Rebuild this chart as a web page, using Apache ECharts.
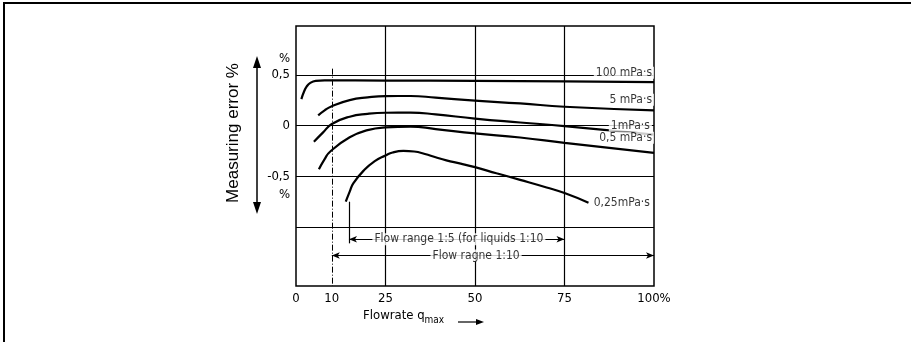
<!DOCTYPE html>
<html>
<head>
<meta charset="utf-8">
<script src="https://cdn.jsdelivr.net/npm/echarts@6/dist/echarts.min.js"></script>
<style>
  html, body { margin: 0; padding: 0; background: #fff; }
  #chart { width: 911px; height: 342px; }
</style>
</head>
<body>
<div id="chart"></div>
<script>
const NARROW = "'Liberation Sans Narrow', 'DejaVu Sans Condensed', sans-serif";

// flowrate in % of q_max, measuring error in %
const visc100 = [[1.5, 0.26], [2.2, 0.33], [3, 0.385], [4, 0.42], [5.5, 0.44], [8, 0.445], [25, 0.443], [50, 0.44], [75, 0.435], [100, 0.428]];
const visc5 = [[6.2, 0.1], [8, 0.15], [10, 0.19], [15, 0.25], [20, 0.277], [25, 0.29], [32, 0.291], [39, 0.275], [50, 0.245], [62.6, 0.218], [75, 0.185], [100, 0.15]];
const visc1 = [[5, -0.16], [7.5, -0.07], [10, 0.015], [15, 0.087], [20, 0.115], [25, 0.126], [32, 0.127], [39, 0.11], [50, 0.068], [62.6, 0.03], [75, -0.005], [100, -0.09]];
const visc05 = [[6.4, -0.43], [8, -0.33], [9.5, -0.258], [15, -0.115], [20, -0.045], [25, -0.018], [32, -0.01], [39, -0.035], [50, -0.077], [62.6, -0.118], [75, -0.17], [100, -0.27]];
const visc025 = [[13.9, -0.75], [15, -0.65], [16, -0.57], [19, -0.44], [22, -0.35], [25, -0.295], [27, -0.265], [30, -0.25], [33, -0.256], [36, -0.28], [39, -0.313], [42, -0.343], [46, -0.375], [50, -0.41], [56, -0.47], [62.6, -0.535], [70, -0.61], [75, -0.665], [81.7, -0.76]];

const xTickValues = [0, 10, 25, 50, 75, 100];
const xTickLabels = ["0", "10", "25", "50", "75", "100%"];
const yTickValues = [0.66, 0.5, 0, -0.5, -0.68];
const yTickLabels = ["%", "0,5", "0", "-0,5", "%"];

const hLines = [0.5, 0, -0.5, -1];
const vLines = [25, 50, 75];

const curves = [
  { data: visc100, label: "100 mPa·s", at: [100, 0.52], align: "right" },
  { data: visc5, label: "5 mPa·s", at: [100, 0.255], align: "right" },
  { data: visc1, label: "1mPa·s", at: [99.4, 0.0], align: "right" },
  { data: visc05, label: "0,5 mPa·s", at: [100, -0.12], align: "right" },
  { data: visc025, label: "0,25mPa·s", at: [82.6, -0.76], align: "left" }
];

// flow range arrows: [from, to, level]
const range5 = [14.8, 75, -1.12];
const range10 = [10, 100, -1.28];

const chart = echarts.init(document.getElementById("chart"), null, { renderer: "canvas" });

const black = "#000";

const gridSeries = {
  type: "line",
  data: [],
  silent: true,
  markLine: {
    silent: true,
    symbol: "none",
    label: { show: false },
    lineStyle: { color: black, width: 1.2, type: "solid" },
    data: [
      ...hLines.map((v) => ({ yAxis: v })),
      ...vLines.map((v) => ({ xAxis: v })),
      [
        { coord: [10, 0.56], lineStyle: { type: [6, 2, 1, 2], width: 1 } },
        { coord: [10, -1.58] }
      ],
      [{ coord: [range5[0], -0.75] }, { coord: [range5[0], -1.16] }]
    ]
  }
};

const arrowSeries = {
  type: "line",
  data: [],
  silent: true,
  markLine: {
    silent: true,
    symbol: ["arrow", "arrow"],
    symbolSize: [5, 8],
    label: { show: false },
    lineStyle: { color: black, width: 1, type: "solid" },
    data: [
      [{ coord: [range5[0], range5[2]] }, { coord: [range5[1], range5[2]] }],
      [{ coord: [range10[0], range10[2]] }, { coord: [range10[1], range10[2]] }]
    ]
  }
};

const curveSeries = curves.map((c) => ({
  type: "line",
  data: c.data,
  smooth: 0.5,
  showSymbol: false,
  silent: true,
  lineStyle: { color: black, width: 2.2 }
}));

const textSeries = {
  type: "scatter",
  symbolSize: 0,
  silent: true,
  z: 10,
  data: [
    ...curves.map((c) => ({ value: c.at, name: c.label, align: c.align })),
    { value: [45.5, range5[2]], name: "Flow range 1:5 (for liquids 1:10", align: "center" },
    { value: [50.3, range10[2]], name: "Flow ragne 1:10", align: "center" }
  ].map((d) => ({
    value: d.value,
    label: {
      show: true,
      position: "inside",
      formatter: d.name,
      align: d.align,
      verticalAlign: "middle",
      color: black,
      fontFamily: NARROW,
      fontSize: 12,
      backgroundColor: "#fff",
      padding: [0, 2]
    }
  }))
};

chart.setOption({
  animation: false,
  backgroundColor: "#fff",
  grid: {
    left: 296, right: 257, top: 26, bottom: 56,
    show: true, borderColor: black, borderWidth: 1.5, backgroundColor: "transparent"
  },
  xAxis: {
    type: "value", min: 0, max: 100,
    axisLine: { show: false },
    axisTick: { show: false },
    splitLine: { show: false },
    axisLabel: {
      customValues: xTickValues,
      formatter: (v) => xTickLabels[xTickValues.indexOf(v)],
      color: black, fontFamily: NARROW, fontSize: 13, margin: 6
    }
  },
  yAxis: {
    type: "value", min: -1.58, max: 0.98,
    axisLine: { show: false },
    axisTick: { show: false },
    splitLine: { show: false },
    axisLabel: {
      customValues: yTickValues,
      formatter: (v) => yTickLabels[yTickValues.indexOf(v)],
      color: black, fontFamily: NARROW, fontSize: 13, margin: 6
    }
  },
  graphic: [
    { type: "polyline", shape: { points: [[4, 342], [4, 3], [911, 3]] }, style: { stroke: black, lineWidth: 2, fill: null } },
    { type: "line", shape: { x1: 257, y1: 66, x2: 257, y2: 204 }, style: { stroke: black, lineWidth: 1.5 } },
    { type: "polygon", shape: { points: [[257, 56], [253, 68], [261, 68]] }, style: { fill: black } },
    { type: "polygon", shape: { points: [[257, 214], [253, 202], [261, 202]] }, style: { fill: black } },
    {
      type: "text", x: 233, y: 133, rotation: Math.PI / 2,
      style: {
        text: "Measuring error %", fill: black, align: "center", verticalAlign: "middle",
        font: "17px 'Liberation Sans', Arial, sans-serif"
      }
    },
    {
      type: "text", x: 363, y: 316,
      style: {
        text: "Flowrate q{sub|max}", fill: black, verticalAlign: "middle",
        font: "13px " + NARROW,
        rich: { sub: { fontSize: 10, fontFamily: NARROW, padding: [8, 0, 0, 0] } }
      }
    },
    { type: "line", shape: { x1: 458, y1: 322, x2: 478, y2: 322 }, style: { stroke: black, lineWidth: 1.2 } },
    { type: "polygon", shape: { points: [[484, 322], [476, 319], [476, 325]] }, style: { fill: black } }
  ],
  series: [gridSeries, arrowSeries, ...curveSeries, textSeries]
});
</script>
</body>
</html>
